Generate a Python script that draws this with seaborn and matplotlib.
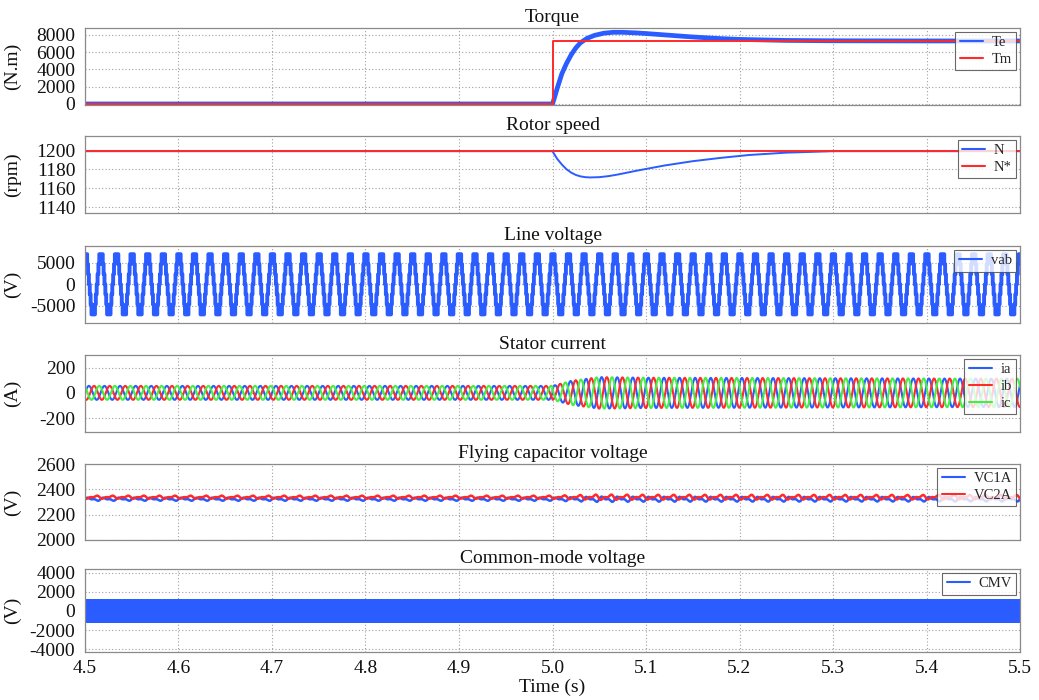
import numpy as np
import pandas as pd
import matplotlib
matplotlib.use("Agg")
import matplotlib.pyplot as plt
import seaborn as sns

# ---------------- data ----------------
t_start, t_end = 4.5, 5.5
f_fund = 60.0                      # fundamental frequency (Hz)

# Torque
te_t = [4.5, 5.0, 5.002, 5.005, 5.01, 5.015, 5.02, 5.025, 5.03, 5.037, 5.045, 5.055, 5.065,
        5.075, 5.09, 5.105, 5.12, 5.15, 5.18, 5.2, 5.25, 5.3, 5.4, 5.5]
te_v = [0, 0, 700, 1800, 3500, 4700, 5700, 6500, 7100, 7600, 7950, 8200, 8300,
        8300, 8230, 8120, 8000, 7760, 7570, 7480, 7360, 7320, 7300, 7300]
tm_t = [4.5, 5.0, 5.0, 5.5]
tm_v = [0, 0, 7300, 7300]

# Rotor speed
n_t = [4.5, 5.0, 5.005, 5.01, 5.015, 5.02, 5.025, 5.03, 5.035, 5.04, 5.05, 5.06, 5.07, 5.09,
       5.12, 5.15, 5.18, 5.21, 5.25, 5.3, 5.5]
n_v = [1199, 1199, 1191, 1185, 1180, 1176.5, 1174, 1172.5, 1171.7, 1171.4, 1171.7, 1172.8,
       1174.5, 1178.5, 1184, 1188.5, 1192, 1195, 1197.5, 1199, 1199]
nref_t = [4.5, 5.5]
nref_v = [1199, 1199]

# Line voltage: one fundamental period of the staircase (18 equal steps)
vab_cycle = [0, 2333, 4667, 7000, 7000, 7000, 7000, 4667, 2333,
             0, -2333, -4667, -7000, -7000, -7000, -7000, -4667, -2333]

# Stator current amplitude envelope
i_env_t = [4.5, 5.0, 5.02, 5.05, 5.1, 5.5]
i_env_a = [55, 55, 95, 125, 120, 112]

# Flying capacitor voltages
vc1_mean, vc2_mean = 2322, 2338
vc_env_t = [4.5, 5.0, 5.05, 5.1, 5.5]
vc_env_a = [14, 14, 24, 22, 20]

# Common-mode voltage switching levels (one switching pattern)
cmv_cycle = [1200, -1200, 400, -1200, 1200, -400, 1200, -1200]

# ---------------- figure ----------------
sns.set_theme(style="white")
plt.rcParams["font.family"] = ["Liberation Serif", "DejaVu Serif"]
plt.rcParams["axes.unicode_minus"] = False
plt.rcParams["axes.edgecolor"] = "#8a8a8a"
plt.rcParams["axes.linewidth"] = 0.9

BLUE = "#2a5cff"
RED = "#ff2a2a"
GREEN = "#44ee44"

W, H = 1039, 700
fig = plt.figure(figsize=(W / 100, H / 100), dpi=100)
left_px, right_px = 85, 1020
panels_px = [(28, 105), (136, 213), (246, 323), (355, 432), (464, 540), (569, 652)]
axes = []
for (top, bot) in panels_px:
    ax = fig.add_axes([left_px / W, 1 - bot / H, (right_px - left_px) / W, (bot - top) / H])
    axes.append(ax)

t = np.linspace(t_start, t_end, 24001)
w = 2 * np.pi * f_fund

# --- Torque
ax = axes[0]
df = pd.DataFrame({"t": te_t, "v": te_v})
sns.lineplot(data=df, x="t", y="v", ax=ax, color=BLUE, lw=3.4, label="Te", estimator=None, sort=False)
df = pd.DataFrame({"t": tm_t, "v": tm_v})
sns.lineplot(data=df, x="t", y="v", ax=ax, color=RED, lw=1.4, label="Tm", estimator=None, sort=False)
ax.set_ylim(-120, 8800)
ax.set_yticks([0, 2000, 4000, 6000, 8000])
ax.set_title("Torque")
ax.set_ylabel("(N.m)")

# --- Rotor speed
ax = axes[1]
df = pd.DataFrame({"t": n_t, "v": n_v})
sns.lineplot(data=df, x="t", y="v", ax=ax, color=BLUE, lw=1.4, label="N", estimator=None, sort=False)
df = pd.DataFrame({"t": nref_t, "v": nref_v})
sns.lineplot(data=df, x="t", y="v", ax=ax, color=RED, lw=1.4, label="N*", estimator=None, sort=False)
ax.set_ylim(1134, 1215)
ax.set_yticks([1140, 1160, 1180, 1200])
ax.set_title("Rotor speed")
ax.set_ylabel("(rpm)")

# --- Line voltage
ax = axes[2]
n_steps = len(vab_cycle)
n_cycles = int(np.ceil((t_end - t_start) * f_fund)) + 1
step_t = t_start + np.arange(n_cycles * n_steps) / (f_fund * n_steps) - 0.25 / f_fund
step_v = np.tile(vab_cycle, n_cycles)
df = pd.DataFrame({"t": step_t, "v": step_v})
ax.step(df["t"], df["v"], where="post", color=BLUE, lw=2.8, label="vab")
ax.set_ylim(-9000, 8900)
ax.set_yticks([-5000, 0, 5000])
ax.set_title("Line voltage")
ax.set_ylabel("(V)")

# --- Stator current
ax = axes[3]
amp = np.interp(t, i_env_t, i_env_a)
phase_shift = np.where(t > 5.0, 0.6, 0.0)
for k, (name, col) in enumerate([("ia", BLUE), ("ib", RED), ("ic", GREEN)]):
    v = amp * np.sin(w * t - k * 2 * np.pi / 3 + phase_shift)
    ax.plot(t, v, color=col, lw=1.5, label=name)
ax.set_ylim(-310, 300)
ax.set_yticks([-200, 0, 200])
ax.set_title("Stator current")
ax.set_ylabel("(A)")

# --- Flying capacitor voltage
ax = axes[4]
a_vc = np.interp(t, vc_env_t, vc_env_a)
vc1 = vc1_mean + a_vc * (0.6 * np.sin(w * t) + 0.4 * np.sin(2 * w * t))
vc2 = vc2_mean - a_vc * (0.6 * np.sin(w * t + 0.4) + 0.4 * np.sin(2 * w * t + 0.8))
ax.plot(t, vc1, color=BLUE, lw=1.8, label="VC1A")
ax.plot(t, vc2, color=RED, lw=1.8, label="VC2A")
ax.set_ylim(2000, 2600)
ax.set_yticks([2000, 2200, 2400, 2600])
ax.set_title("Flying capacitor voltage")
ax.set_ylabel("(V)")

# --- Common-mode voltage
ax = axes[5]
n_sw = 6000
cmv_t = np.linspace(t_start, t_end, n_sw * len(cmv_cycle))
cmv_v = np.tile(cmv_cycle, n_sw)
ax.plot(cmv_t, cmv_v, color=BLUE, lw=0.8, label="CMV")
ax.set_ylim(-4300, 4400)
ax.set_yticks([-4000, -2000, 0, 2000, 4000])
ax.set_title("Common-mode voltage")
ax.set_ylabel("(V)")
ax.set_xlabel("Time (s)", fontsize=14, labelpad=1, color="#111111")

xticks = np.round(np.arange(4.5, 5.51, 0.1), 1)
for i, ax in enumerate(axes):
    ax.set_xlim(t_start, t_end)
    ax.set_xticks(xticks)
    if i < len(axes) - 1:
        ax.set_xticklabels([])
        ax.set_xlabel("")
        ax.tick_params(axis="x", length=0)
    else:
        ax.set_xticklabels([f"{x:.1f}" for x in xticks])
        ax.tick_params(axis="x", length=4, width=0.8, color="#555555", direction="out", pad=2)
    ax.tick_params(axis="y", length=5, width=0.8, color="#555555", direction="out", pad=2)
    ax.tick_params(labelsize=14, labelcolor="#111111")
    ax.grid(True, linestyle=(0, (1, 2)), color="#a0a0a0", lw=0.8)
    ax.set_title(ax.get_title(), fontsize=14, pad=4, color="#111111")
    ax.yaxis.label.set_fontsize(14)
    ax.yaxis.label.set_color("#111111")
    ax.yaxis.set_label_coords(-0.068, 0.5)
    for s in ax.spines.values():
        s.set_color("#8a8a8a")
    leg = ax.legend(loc="upper right", fontsize=10.5, frameon=True, fancybox=False,
                    edgecolor="#444444", handlelength=1.6, borderaxespad=0.25,
                    labelspacing=0.25, borderpad=0.3, handletextpad=0.6)
    leg.get_frame().set_linewidth(0.8)
    for lh in leg.get_lines():
        lh.set_linewidth(1.5)

fig.savefig("out.png", dpi=100)
